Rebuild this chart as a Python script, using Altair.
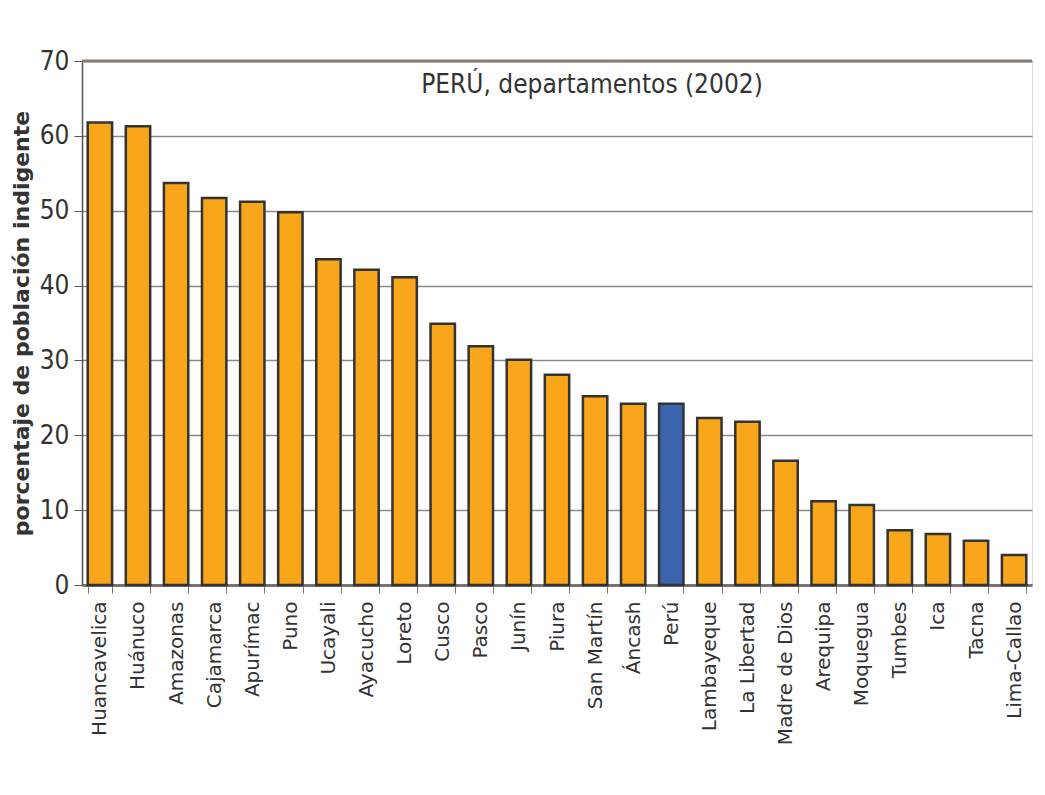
import altair as alt
import pandas as pd

departamentos = ["Huancavelica", "Huánuco", "Amazonas", "Cajamarca", "Apurímac", "Puno",
                 "Ucayali", "Ayacucho", "Loreto", "Cusco", "Pasco", "Junín", "Piura",
                 "San Martín", "Áncash", "Perú", "Lambayeque", "La Libertad", "Madre de Dios",
                 "Arequipa", "Moquegua", "Tumbes", "Ica", "Tacna", "Lima-Callao"]
valores = [61.8, 61.3, 53.7, 51.7, 51.2, 49.8, 43.5, 42.1, 41.1, 34.9, 31.9, 30.1, 28.1,
           25.2, 24.2, 24.2, 22.3, 21.8, 16.6, 11.2, 10.7, 7.3, 6.8, 5.9, 4.0]
grupo = ["Perú" if d == "Perú" else "dep" for d in departamentos]

df = pd.DataFrame({"dep": departamentos, "valor": valores, "grupo": grupo})

COND = "DejaVu Sans Condensed, Roboto Condensed, Roboto, sans-serif"

x = alt.X("dep:N", sort=departamentos, title=None,
          scale=alt.Scale(paddingInner=0.36, paddingOuter=0.15),
          axis=alt.Axis(labelAngle=-90, labelAlign="right", labelBaseline="middle",
                        labelFont="DejaVu Sans", labelFontSize=20, labelColor="#333333",
                        labelPadding=8, tickBand="extent", tickColor="#777777",
                        tickSize=8, domainColor="#7a7272", domainWidth=3))

bars = alt.Chart(df).mark_bar(stroke="#333333", strokeWidth=2.5).encode(
    x=x,
    y=alt.Y("valor:Q", title="porcentaje de población indigente",
            scale=alt.Scale(domain=[0, 70], nice=False),
            axis=alt.Axis(values=[0, 10, 20, 30, 40, 50, 60, 70], grid=True,
                          gridColor="#8a8a8a", gridWidth=1.5,
                          labelFont=COND, labelFontSize=26,
                          labelColor="#333333", labelPadding=5,
                          tickColor="#555555", tickSize=8,
                          domainColor="#555555", domainWidth=1.5,
                          titleFont="DejaVu Sans", titleFontSize=22, titleFontWeight="bold",
                          titleColor="#333333", titlePadding=6)),
    color=alt.Color("grupo:N", scale=alt.Scale(domain=["dep", "Perú"],
                                               range=["#F9A61A", "#3C64AE"]), legend=None),
)

top = alt.Chart(pd.DataFrame({"y": [70]})).mark_rule(color="#8a7d78", strokeWidth=3).encode(
    y=alt.Y("y:Q", scale=alt.Scale(domain=[0, 70]))
)

chart = alt.layer(bars, top).properties(
    width=950, height=524,
    padding={"left": 2, "top": 40, "right": 2, "bottom": 5},
    title=alt.TitleParams("PERÚ, departamentos (2002)", font=COND,
                          fontSize=26, fontWeight="normal", color="#333333",
                          anchor="middle", frame="group", offset=-50, dx=35),
).configure_view(stroke=None).configure(background="white")

chart.save("out.html", embed_options={"renderer": "svg", "actions": False})
